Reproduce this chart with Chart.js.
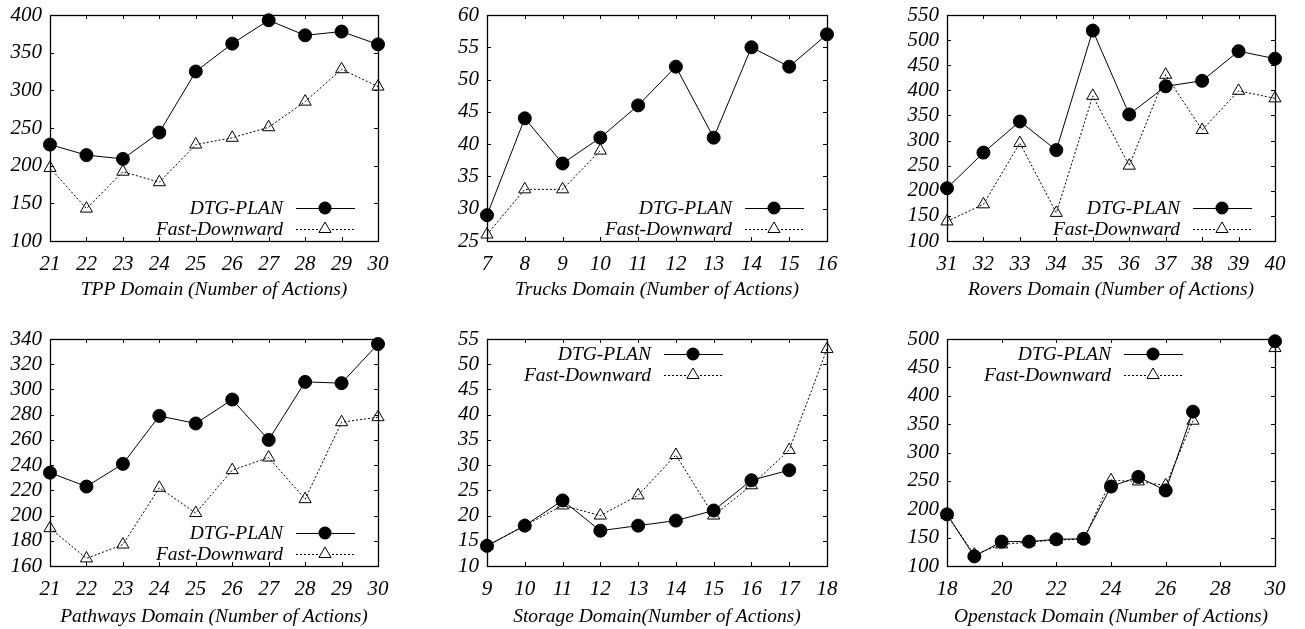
<!DOCTYPE html>
<html>
<head>
<meta charset="utf-8">
<script src="https://cdn.jsdelivr.net/npm/chart.js@4.4.0/dist/chart.umd.min.js"></script>
<style>
  html, body { margin: 0; padding: 0; background: #fff; }
  body { width: 1305px; height: 629px; position: relative; overflow: hidden; }
  canvas { position: absolute; }
</style>
</head>
<body>
<canvas id="c1" width="430" height="312" style="left:0;top:-10px"></canvas>
<canvas id="c2" width="435" height="312" style="left:430px;top:-10px"></canvas>
<canvas id="c3" width="440" height="312" style="left:865px;top:-10px"></canvas>
<canvas id="c4" width="430" height="314" style="left:0;top:315px"></canvas>
<canvas id="c5" width="435" height="314" style="left:430px;top:315px"></canvas>
<canvas id="c6" width="440" height="314" style="left:865px;top:315px"></canvas>
<script>
// TPP
var tppX = [21, 22, 23, 24, 25, 26, 27, 28, 29, 30];
var tppDtg = [228, 214, 209, 244, 325, 362, 393, 373, 378, 361];
var tppFd = [197, 143, 192, 178, 228, 237, 251, 285, 328, 305];

// Trucks
var trucksX = [7, 8, 9, 10, 11, 12, 13, 14, 15, 16];
var trucksDtg = [29, 44, 37, 41, 46, 52, 41, 55, 52, 57];
var trucksFd = [26, 33, 33, 39];

// Rovers
var roversX = [31, 32, 33, 34, 35, 36, 37, 38, 39, 40];
var roversDtg = [205, 276, 338, 281, 519, 352, 408, 419, 478, 463];
var roversFd = [139, 173, 295, 156, 389, 250, 431, 321, 399, 384];

// Pathways
var pathX = [21, 22, 23, 24, 25, 26, 27, 28, 29, 30];
var pathDtg = [234, 223, 241, 279, 273, 292, 260, 306, 305, 336];
var pathFd = [190, 166, 177, 222, 202, 236, 246, 213, 274, 278];

// Storage
var storX = [9, 10, 11, 12, 13, 14, 15, 16, 17, 18];
var storDtg = [14, 18, 23, 17, 18, 19, 21, 27, 29];
var storFd = [14, 18, 22, 20, 24, 32, 20, 26, 33, 53];

// Openstack (no runs at 28, 29)
var openX = [18, 19, 20, 21, 22, 23, 24, 25, 26, 27, 28, 29, 30];
var openDtg = [191, 117, 143, 143, 147, 148, 240, 257, 233, 372, null, null, 496];
var openFd = [190, 120, 138, 142, 146, 147, 251, 249, 242, 356, null, null, 484];

var FONT = '"Liberation Serif", "Times New Roman", serif';

function pts(xs, ys) {
  var out = [];
  for (var i = 0; i < ys.length; i++) out.push({ x: xs[i], y: ys[i] });
  return out;
}

// box round the plot area plus little inward ticks on all four sides
var framePlugin = {
  id: "frame",
  beforeDatasetsDraw: function (chart) {
    var a = chart.chartArea, ctx = chart.ctx;
    var sx = chart.scales.x, sy = chart.scales.y;
    ctx.save();
    ctx.strokeStyle = "#000";
    ctx.lineWidth = 1;
    ctx.beginPath();
    sx.ticks.forEach(function (t) {
      var px = Math.round(sx.getPixelForValue(t.value)) + 0.5;
      ctx.moveTo(px, a.bottom); ctx.lineTo(px, a.bottom - 4);
      ctx.moveTo(px, a.top); ctx.lineTo(px, a.top + 4);
    });
    sy.ticks.forEach(function (t) {
      var py = Math.round(sy.getPixelForValue(t.value)) + 0.5;
      ctx.moveTo(a.left, py); ctx.lineTo(a.left + 4, py);
      ctx.moveTo(a.right, py); ctx.lineTo(a.right - 4, py);
    });
    ctx.stroke();
    ctx.lineWidth = 1.3;
    ctx.strokeRect(Math.round(a.left) + 0.5, Math.round(a.top) + 0.5,
      Math.round(a.right - a.left), Math.round(a.bottom - a.top));
    ctx.restore();
  },
};

function drawMarker(ctx, style, x, y, r) {
  ctx.beginPath();
  if (style === "circle") {
    ctx.arc(x, y, r, 0, Math.PI * 2);
    ctx.fillStyle = "#000";
    ctx.fill();
  } else {
    for (var k = 0; k < 3; k++) {
      var ang = k * 2 * Math.PI / 3;
      var px = x + Math.sin(ang) * r, py = y - Math.cos(ang) * r;
      if (k === 0) ctx.moveTo(px, py); else ctx.lineTo(px, py);
    }
    ctx.closePath();
    ctx.fillStyle = "#fff";
    ctx.fill();
    ctx.lineWidth = 1;
    ctx.strokeStyle = "#000";
    ctx.stroke();
  }
}

// gnuplot style key: text, then a sample line with the marker in its middle
var keyPlugin = {
  id: "gnuKey",
  afterDatasetsDraw: function (chart, args, opts) {
    var a = chart.chartArea, ctx = chart.ctx;
    var textRight, y0;
    if (opts.corner === "tl") { textRight = a.left + 164; y0 = a.top + 15; }
    else { textRight = a.right - 95; y0 = a.bottom - 33; }
    chart.data.datasets.forEach(function (ds, i) {
      var y = Math.round(y0 + i * 20.5);
      ctx.save();
      ctx.font = "italic 19.5px " + FONT;
      ctx.textAlign = "right";
      ctx.textBaseline = "middle";
      ctx.fillStyle = "#000";
      ctx.fillText(ds.label, textRight, y + 1);
      ctx.strokeStyle = "#000";
      ctx.lineWidth = 1;
      ctx.setLineDash(ds.borderDash || []);
      ctx.beginPath();
      ctx.moveTo(textRight + 13, y + 0.5);
      ctx.lineTo(textRight + 72, y + 0.5);
      ctx.stroke();
      ctx.setLineDash([]);
      drawMarker(ctx, ds.pointStyle, textRight + 42, y, ds.pointRadius);
      ctx.restore();
    });
  },
};

function makeChart(id, opt) {
  var ctx = document.getElementById(id).getContext("2d");
  return new Chart(ctx, {
    type: "line",
    data: {
      datasets: [
        {
          label: "DTG-PLAN",
          data: pts(opt.xs, opt.dtg),
          borderColor: "#000",
          borderWidth: 1,
          pointStyle: "circle",
          pointRadius: 6.5,
          pointBackgroundColor: "#000",
          pointBorderColor: "#000",
          fill: false,
          spanGaps: false,
          clip: false,
        },
        {
          label: "Fast-Downward",
          data: pts(opt.xs, opt.fd),
          borderColor: "#000",
          borderWidth: 1,
          borderDash: [2, 2],
          pointStyle: "triangle",
          pointRadius: 7,
          pointBackgroundColor: "rgba(255,255,255,0)",
          pointBorderColor: "#000",
          pointBorderWidth: 1,
          fill: false,
          spanGaps: false,
          clip: false,
        },
      ],
    },
    options: {
      responsive: false,
      animation: false,
      layout: { padding: { left: 0, top: opt.padTop, right: opt.padRight, bottom: 0 } },
      scales: {
        x: {
          type: "linear",
          min: opt.xmin,
          max: opt.xmax,
          grid: { display: false, drawTicks: false },
          border: { display: false },
          ticks: {
            stepSize: opt.xstep,
            autoSkip: false,
            padding: 11,
            color: "#000",
            maxRotation: 0,
            font: { family: FONT, size: 21, style: "italic" },
          },
          title: {
            display: true,
            text: opt.title,
            color: "#000",
            padding: { top: 6, bottom: 0 },
            font: { family: FONT, size: 19.5, style: "italic" },
          },
          afterFit: function (s) { s.height = opt.xH; },
        },
        y: {
          min: opt.ymin,
          max: opt.ymax,
          grid: { display: false, drawTicks: false },
          border: { display: false },
          ticks: {
            stepSize: opt.ystep,
            autoSkip: false,
            padding: 8,
            color: "#000",
            font: { family: FONT, size: 21, style: "italic" },
          },
          afterFit: function (s) { s.width = opt.yW; },
        },
      },
      plugins: {
        legend: { display: false },
        tooltip: { enabled: false },
        gnuKey: { corner: opt.corner },
      },
    },
    plugins: [framePlugin, keyPlugin],
  });
}

makeChart("c1", { xs: tppX, dtg: tppDtg, fd: tppFd, xmin: 21, xmax: 30, xstep: 1,
  ymin: 100, ymax: 400, ystep: 50, yW: 50, padTop: 25, padRight: 52, xH: 61,
  corner: "br", title: "TPP Domain (Number of Actions)" });
makeChart("c2", { xs: trucksX, dtg: trucksDtg, fd: trucksFd, xmin: 7, xmax: 16, xstep: 1,
  ymin: 25, ymax: 60, ystep: 5, yW: 57, padTop: 25, padRight: 38, xH: 61,
  corner: "br", title: "Trucks Domain (Number of Actions)" });
makeChart("c3", { xs: roversX, dtg: roversDtg, fd: roversFd, xmin: 31, xmax: 40, xstep: 1,
  ymin: 100, ymax: 550, ystep: 50, yW: 82, padTop: 25, padRight: 30, xH: 61,
  corner: "br", title: "Rovers Domain (Number of Actions)" });
makeChart("c4", { xs: pathX, dtg: pathDtg, fd: pathFd, xmin: 21, xmax: 30, xstep: 1,
  ymin: 160, ymax: 340, ystep: 20, yW: 50, padTop: 24, padRight: 52, xH: 63,
  corner: "br", title: "Pathways Domain (Number of Actions)" });
makeChart("c5", { xs: storX, dtg: storDtg, fd: storFd, xmin: 9, xmax: 18, xstep: 1,
  ymin: 10, ymax: 55, ystep: 5, yW: 57, padTop: 24, padRight: 38, xH: 63,
  corner: "tl", title: "Storage Domain(Number of Actions)" });
makeChart("c6", { xs: openX, dtg: openDtg, fd: openFd, xmin: 18, xmax: 30, xstep: 2,
  ymin: 100, ymax: 500, ystep: 50, yW: 82, padTop: 24, padRight: 30, xH: 63,
  corner: "tl", title: "Openstack Domain (Number of Actions)" });
</script>
</body>
</html>
